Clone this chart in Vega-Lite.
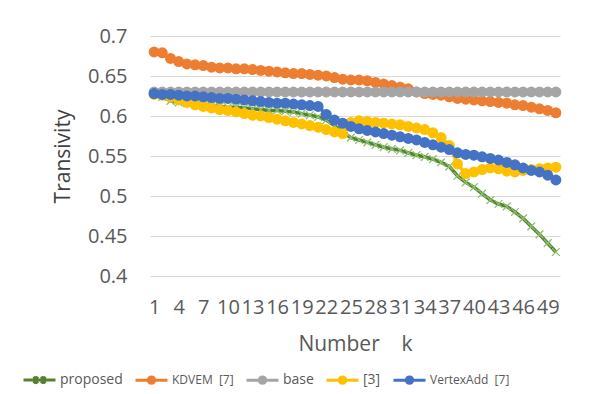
{
  "$schema": "https://vega.github.io/schema/vega-lite/v6.json",
  "width": 410,
  "height": 240,
  "autosize": {"type": "none"},
  "padding": {"left": 150, "top": 36, "right": 31, "bottom": 118},
  "background": "white",
  "config": {"font": "Open Sans", "view": {"stroke": null}},
  "datasets": {
    "series": [
      {"s":"proposed","k":1,"v":0.628},{"s":"proposed","k":2,"v":0.624},{"s":"proposed","k":3,"v":0.619},{"s":"proposed","k":4,"v":0.617},{"s":"proposed","k":5,"v":0.616},{"s":"proposed","k":6,"v":0.615},{"s":"proposed","k":7,"v":0.614},{"s":"proposed","k":8,"v":0.613},{"s":"proposed","k":9,"v":0.612},{"s":"proposed","k":10,"v":0.611},
      {"s":"proposed","k":11,"v":0.611},{"s":"proposed","k":12,"v":0.610},{"s":"proposed","k":13,"v":0.609},{"s":"proposed","k":14,"v":0.608},{"s":"proposed","k":15,"v":0.607},{"s":"proposed","k":16,"v":0.607},{"s":"proposed","k":17,"v":0.606},{"s":"proposed","k":18,"v":0.605},{"s":"proposed","k":19,"v":0.603},{"s":"proposed","k":20,"v":0.601},
      {"s":"proposed","k":21,"v":0.599},{"s":"proposed","k":22,"v":0.595},{"s":"proposed","k":23,"v":0.588},{"s":"proposed","k":24,"v":0.580},{"s":"proposed","k":25,"v":0.573},{"s":"proposed","k":26,"v":0.570},{"s":"proposed","k":27,"v":0.567},{"s":"proposed","k":28,"v":0.564},{"s":"proposed","k":29,"v":0.561},{"s":"proposed","k":30,"v":0.559},
      {"s":"proposed","k":31,"v":0.557},{"s":"proposed","k":32,"v":0.554},{"s":"proposed","k":33,"v":0.551},{"s":"proposed","k":34,"v":0.549},{"s":"proposed","k":35,"v":0.546},{"s":"proposed","k":36,"v":0.542},{"s":"proposed","k":37,"v":0.537},{"s":"proposed","k":38,"v":0.525},{"s":"proposed","k":39,"v":0.517},{"s":"proposed","k":40,"v":0.511},
      {"s":"proposed","k":41,"v":0.503},{"s":"proposed","k":42,"v":0.495},{"s":"proposed","k":43,"v":0.490},{"s":"proposed","k":44,"v":0.487},{"s":"proposed","k":45,"v":0.480},{"s":"proposed","k":46,"v":0.472},{"s":"proposed","k":47,"v":0.462},{"s":"proposed","k":48,"v":0.452},{"s":"proposed","k":49,"v":0.441},{"s":"proposed","k":50,"v":0.430},
      {"s":"KDVEM","k":1,"v":0.680},{"s":"KDVEM","k":2,"v":0.679},{"s":"KDVEM","k":3,"v":0.672},{"s":"KDVEM","k":4,"v":0.668},{"s":"KDVEM","k":5,"v":0.665},{"s":"KDVEM","k":6,"v":0.664},{"s":"KDVEM","k":7,"v":0.663},{"s":"KDVEM","k":8,"v":0.661},{"s":"KDVEM","k":9,"v":0.660},{"s":"KDVEM","k":10,"v":0.660},
      {"s":"KDVEM","k":11,"v":0.659},{"s":"KDVEM","k":12,"v":0.659},{"s":"KDVEM","k":13,"v":0.658},{"s":"KDVEM","k":14,"v":0.657},{"s":"KDVEM","k":15,"v":0.656},{"s":"KDVEM","k":16,"v":0.655},{"s":"KDVEM","k":17,"v":0.654},{"s":"KDVEM","k":18,"v":0.653},{"s":"KDVEM","k":19,"v":0.653},{"s":"KDVEM","k":20,"v":0.652},
      {"s":"KDVEM","k":21,"v":0.651},{"s":"KDVEM","k":22,"v":0.650},{"s":"KDVEM","k":23,"v":0.648},{"s":"KDVEM","k":24,"v":0.646},{"s":"KDVEM","k":25,"v":0.645},{"s":"KDVEM","k":26,"v":0.645},{"s":"KDVEM","k":27,"v":0.644},{"s":"KDVEM","k":28,"v":0.642},{"s":"KDVEM","k":29,"v":0.640},{"s":"KDVEM","k":30,"v":0.638},
      {"s":"KDVEM","k":31,"v":0.636},{"s":"KDVEM","k":32,"v":0.634},{"s":"KDVEM","k":33,"v":0.630},{"s":"KDVEM","k":34,"v":0.628},{"s":"KDVEM","k":35,"v":0.627},{"s":"KDVEM","k":36,"v":0.626},{"s":"KDVEM","k":37,"v":0.624},{"s":"KDVEM","k":38,"v":0.622},{"s":"KDVEM","k":39,"v":0.621},{"s":"KDVEM","k":40,"v":0.620},
      {"s":"KDVEM","k":41,"v":0.619},{"s":"KDVEM","k":42,"v":0.618},{"s":"KDVEM","k":43,"v":0.617},{"s":"KDVEM","k":44,"v":0.616},{"s":"KDVEM","k":45,"v":0.614},{"s":"KDVEM","k":46,"v":0.613},{"s":"KDVEM","k":47,"v":0.611},{"s":"KDVEM","k":48,"v":0.609},{"s":"KDVEM","k":49,"v":0.607},{"s":"KDVEM","k":50,"v":0.604},
      {"s":"base","k":1,"v":0.63},{"s":"base","k":2,"v":0.63},{"s":"base","k":3,"v":0.63},{"s":"base","k":4,"v":0.63},{"s":"base","k":5,"v":0.63},{"s":"base","k":6,"v":0.63},{"s":"base","k":7,"v":0.63},{"s":"base","k":8,"v":0.63},{"s":"base","k":9,"v":0.63},{"s":"base","k":10,"v":0.63},
      {"s":"base","k":11,"v":0.63},{"s":"base","k":12,"v":0.63},{"s":"base","k":13,"v":0.63},{"s":"base","k":14,"v":0.63},{"s":"base","k":15,"v":0.63},{"s":"base","k":16,"v":0.63},{"s":"base","k":17,"v":0.63},{"s":"base","k":18,"v":0.63},{"s":"base","k":19,"v":0.63},{"s":"base","k":20,"v":0.63},
      {"s":"base","k":21,"v":0.63},{"s":"base","k":22,"v":0.63},{"s":"base","k":23,"v":0.63},{"s":"base","k":24,"v":0.63},{"s":"base","k":25,"v":0.63},{"s":"base","k":26,"v":0.63},{"s":"base","k":27,"v":0.63},{"s":"base","k":28,"v":0.63},{"s":"base","k":29,"v":0.63},{"s":"base","k":30,"v":0.63},
      {"s":"base","k":31,"v":0.63},{"s":"base","k":32,"v":0.63},{"s":"base","k":33,"v":0.63},{"s":"base","k":34,"v":0.63},{"s":"base","k":35,"v":0.63},{"s":"base","k":36,"v":0.63},{"s":"base","k":37,"v":0.63},{"s":"base","k":38,"v":0.63},{"s":"base","k":39,"v":0.63},{"s":"base","k":40,"v":0.63},
      {"s":"base","k":41,"v":0.63},{"s":"base","k":42,"v":0.63},{"s":"base","k":43,"v":0.63},{"s":"base","k":44,"v":0.63},{"s":"base","k":45,"v":0.63},{"s":"base","k":46,"v":0.63},{"s":"base","k":47,"v":0.63},{"s":"base","k":48,"v":0.63},{"s":"base","k":49,"v":0.63},{"s":"base","k":50,"v":0.63},
      {"s":"[3]","k":1,"v":0.627},{"s":"[3]","k":2,"v":0.626},{"s":"[3]","k":3,"v":0.624},{"s":"[3]","k":4,"v":0.620},{"s":"[3]","k":5,"v":0.617},{"s":"[3]","k":6,"v":0.614},{"s":"[3]","k":7,"v":0.612},{"s":"[3]","k":8,"v":0.610},{"s":"[3]","k":9,"v":0.608},{"s":"[3]","k":10,"v":0.607},
      {"s":"[3]","k":11,"v":0.605},{"s":"[3]","k":12,"v":0.603},{"s":"[3]","k":13,"v":0.601},{"s":"[3]","k":14,"v":0.600},{"s":"[3]","k":15,"v":0.598},{"s":"[3]","k":16,"v":0.596},{"s":"[3]","k":17,"v":0.594},{"s":"[3]","k":18,"v":0.592},{"s":"[3]","k":19,"v":0.590},{"s":"[3]","k":20,"v":0.588},
      {"s":"[3]","k":21,"v":0.586},{"s":"[3]","k":22,"v":0.583},{"s":"[3]","k":23,"v":0.580},{"s":"[3]","k":24,"v":0.578},{"s":"[3]","k":25,"v":0.592},{"s":"[3]","k":26,"v":0.594},{"s":"[3]","k":27,"v":0.593},{"s":"[3]","k":28,"v":0.592},{"s":"[3]","k":29,"v":0.591},{"s":"[3]","k":30,"v":0.590},
      {"s":"[3]","k":31,"v":0.589},{"s":"[3]","k":32,"v":0.587},{"s":"[3]","k":33,"v":0.585},{"s":"[3]","k":34,"v":0.583},{"s":"[3]","k":35,"v":0.579},{"s":"[3]","k":36,"v":0.573},{"s":"[3]","k":37,"v":0.563},{"s":"[3]","k":38,"v":0.540},{"s":"[3]","k":39,"v":0.528},{"s":"[3]","k":40,"v":0.530},
      {"s":"[3]","k":41,"v":0.533},{"s":"[3]","k":42,"v":0.535},{"s":"[3]","k":43,"v":0.534},{"s":"[3]","k":44,"v":0.531},{"s":"[3]","k":45,"v":0.530},{"s":"[3]","k":46,"v":0.532},{"s":"[3]","k":47,"v":0.533},{"s":"[3]","k":48,"v":0.534},{"s":"[3]","k":49,"v":0.535},{"s":"[3]","k":50,"v":0.536},
      {"s":"VertexAdd","k":1,"v":0.628},{"s":"VertexAdd","k":2,"v":0.627},{"s":"VertexAdd","k":3,"v":0.627},{"s":"VertexAdd","k":4,"v":0.626},{"s":"VertexAdd","k":5,"v":0.625},{"s":"VertexAdd","k":6,"v":0.625},{"s":"VertexAdd","k":7,"v":0.624},{"s":"VertexAdd","k":8,"v":0.623},{"s":"VertexAdd","k":9,"v":0.622},{"s":"VertexAdd","k":10,"v":0.622},
      {"s":"VertexAdd","k":11,"v":0.621},{"s":"VertexAdd","k":12,"v":0.620},{"s":"VertexAdd","k":13,"v":0.619},{"s":"VertexAdd","k":14,"v":0.618},{"s":"VertexAdd","k":15,"v":0.617},{"s":"VertexAdd","k":16,"v":0.616},{"s":"VertexAdd","k":17,"v":0.616},{"s":"VertexAdd","k":18,"v":0.615},{"s":"VertexAdd","k":19,"v":0.614},{"s":"VertexAdd","k":20,"v":0.613},
      {"s":"VertexAdd","k":21,"v":0.612},{"s":"VertexAdd","k":22,"v":0.602},{"s":"VertexAdd","k":23,"v":0.595},{"s":"VertexAdd","k":24,"v":0.591},{"s":"VertexAdd","k":25,"v":0.587},{"s":"VertexAdd","k":26,"v":0.584},{"s":"VertexAdd","k":27,"v":0.582},{"s":"VertexAdd","k":28,"v":0.580},{"s":"VertexAdd","k":29,"v":0.578},{"s":"VertexAdd","k":30,"v":0.576},
      {"s":"VertexAdd","k":31,"v":0.574},{"s":"VertexAdd","k":32,"v":0.572},{"s":"VertexAdd","k":33,"v":0.570},{"s":"VertexAdd","k":34,"v":0.567},{"s":"VertexAdd","k":35,"v":0.564},{"s":"VertexAdd","k":36,"v":0.561},{"s":"VertexAdd","k":37,"v":0.558},{"s":"VertexAdd","k":38,"v":0.554},{"s":"VertexAdd","k":39,"v":0.552},{"s":"VertexAdd","k":40,"v":0.551},
      {"s":"VertexAdd","k":41,"v":0.549},{"s":"VertexAdd","k":42,"v":0.547},{"s":"VertexAdd","k":43,"v":0.545},{"s":"VertexAdd","k":44,"v":0.542},{"s":"VertexAdd","k":45,"v":0.539},{"s":"VertexAdd","k":46,"v":0.535},{"s":"VertexAdd","k":47,"v":0.532},{"s":"VertexAdd","k":48,"v":0.530},{"s":"VertexAdd","k":49,"v":0.526},{"s":"VertexAdd","k":50,"v":0.520}
    ]
  },
  "data": {"name": "series"},
  "encoding": {
    "x": {
      "field": "k", "type": "ordinal", "sort": "ascending",
      "scale": {"paddingOuter": 0.5},
      "axis": {
        "title": "Number\u00a0\u00a0\u00a0\u00a0k",
        "titleFontSize": 21, "titleFontWeight": "normal", "titleColor": "#595959", "titlePadding": 16,
        "labelAngle": 0, "labelFontSize": 20, "labelColor": "#595959", "labelPadding": 21,
        "labelOverlap": false, "labelExpr": "(datum.value - 1) % 3 === 0 ? datum.label : ''",
        "ticks": false, "domain": false, "grid": false
      }
    },
    "y": {
      "field": "v", "type": "quantitative",
      "scale": {"domain": [0.4, 0.7], "nice": false, "zero": false},
      "axis": {
        "title": "Transivity",
        "titleFontSize": 21, "titleFontWeight": "normal", "titleColor": "#404040", "titlePadding": 14,
        "values": [0.4, 0.45, 0.5, 0.55, 0.6, 0.65, 0.7], "format": ".2~f",
        "labelFontSize": 20, "labelColor": "#595959", "labelPadding": 23,
        "ticks": false, "domain": false, "grid": true, "gridColor": "#D9D9D9", "gridWidth": 1.2
      }
    }
  },
  "layer": [
    {
      "mark": {"type": "line", "strokeWidth": 3.5},
      "encoding": {
        "color": {
          "field": "s", "type": "nominal",
          "scale": {
            "domain": ["proposed", "KDVEM", "base", "[3]", "VertexAdd"],
            "range": ["#548235", "#ED7D31", "#A5A5A5", "#FFC000", "#4472C4"]
          },
          "legend": {
            "orient": "none", "direction": "horizontal", "legendX": -128, "legendY": 326,
            "title": null,
            "labelFontSize": 14, "labelColor": "#595959", "labelOffset": 3, "columnPadding": 6,
            "symbolSize": 1024, "symbolStrokeWidth": 3,
            "labelExpr": "datum.value === 'KDVEM' ? 'KDVEM\u00a0\u00a0[7]' : datum.value === 'VertexAdd' ? 'VertexAdd\u00a0\u00a0[7]' : datum.value === 'base' ? '\u00a0\u00a0\u00a0base' : datum.value === '[3]' ? '\u00a0\u00a0[3]' : datum.label",
            "encode": {
              "labels": {
                "update": {
                  "fontSize": {"signal": "datum.value === 'KDVEM' || datum.value === 'VertexAdd' ? 12 : 14"}
                }
              },
              "symbols": {
                "update": {
                  "shape": {"signal": "datum.value === 'proposed' ? 'M-1,0L1,0M-0.35,-0.22L-0.12,0.22M-0.12,-0.22L-0.35,0.22M0.12,-0.22L0.35,0.22M0.35,-0.22L0.12,0.22' : 'M-1,0L1,0M0.2,0A0.2,0.2,0,1,1,-0.2,0A0.2,0.2,0,1,1,0.2,0Z'"},
                  "fill": {"scale": "color", "field": "value"},
                  "stroke": {"scale": "color", "field": "value"},
                  "strokeWidth": {"value": 3},
                  "opacity": {"value": 1}
                }
              }
            }
          }
        }
      }
    },
    {
      "transform": [{"filter": "datum.s === 'proposed'"}],
      "mark": {"type": "point", "shape": "M-1,-1L1,1M-1,1L1,-1", "filled": false, "stroke": "#8DC26A", "strokeWidth": 1.3, "size": 60, "opacity": 1}
    },
    {
      "transform": [{"filter": "datum.s !== 'proposed'"}],
      "mark": {"type": "point", "shape": "circle", "filled": true, "size": 120, "opacity": 1},
      "encoding": {"color": {"field": "s", "type": "nominal"}}
    }
  ]
}
